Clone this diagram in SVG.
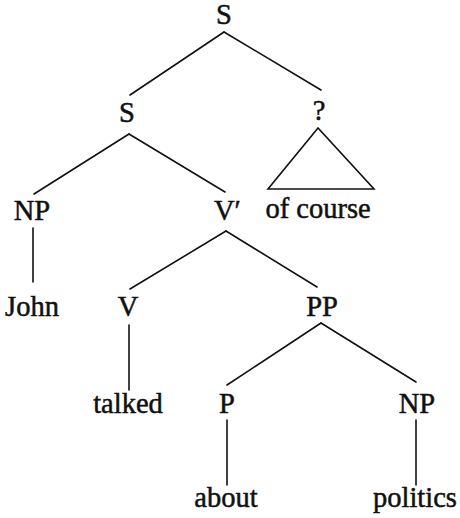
<svg xmlns="http://www.w3.org/2000/svg" width="460" height="518" viewBox="0 0 460 518">
<style>
.t{font-family:"Liberation Serif","Times New Roman",serif;font-size:28.5px;fill:#111;stroke:#111;stroke-width:0.5;text-anchor:middle}
.e{stroke:#111;stroke-width:1.6;fill:none;stroke-linecap:round}
</style>
<rect width="460" height="518" fill="#fff"/>
<g id="connectors">
<line class="e" x1="224" y1="32" x2="130" y2="95"/>
<line class="e" x1="224" y1="32" x2="321" y2="90"/>
<polygon class="e" points="318,128 268,189 374,189" stroke-linejoin="miter"/>
<line class="e" x1="129" y1="134" x2="34" y2="194"/>
<line class="e" x1="129" y1="134" x2="225" y2="192"/>
<line class="e" x1="33" y1="228" x2="33" y2="282"/>
<line class="e" x1="226" y1="231" x2="130" y2="289"/>
<line class="e" x1="226" y1="231" x2="317" y2="287"/>
<line class="e" x1="129" y1="325" x2="129" y2="390"/>
<line class="e" x1="321" y1="323" x2="227" y2="385"/>
<line class="e" x1="321" y1="323" x2="416" y2="382"/>
<line class="e" x1="227" y1="420" x2="227" y2="485"/>
<line class="e" x1="416" y1="420" x2="416" y2="485"/>
</g>
<g id="n-S-root"><text class="t" x="224" y="24">S</text></g>
<g id="n-S"><text class="t" x="127" y="122">S</text></g>
<g id="n-Q"><text class="t" x="319" y="120">?</text></g>
<g id="n-ofcourse"><text class="t" x="318" y="218">of course</text></g>
<g id="n-NP1"><text class="t" x="32" y="220">NP</text></g>
<g id="n-Vbar"><text class="t" x="214" y="220" style="text-anchor:start">V′</text></g>
<g id="n-John"><text class="t" x="32" y="316">John</text></g>
<g id="n-V"><text class="t" x="128" y="316">V</text></g>
<g id="n-PP"><text class="t" x="322" y="316">PP</text></g>
<g id="n-talked"><text class="t" x="128" y="413">talked</text></g>
<g id="n-P"><text class="t" x="227" y="413">P</text></g>
<g id="n-NP2"><text class="t" x="417" y="413">NP</text></g>
<g id="n-about"><text class="t" x="226" y="507">about</text></g>
<g id="n-politics"><text class="t" x="415" y="507">politics</text></g>
</svg>
